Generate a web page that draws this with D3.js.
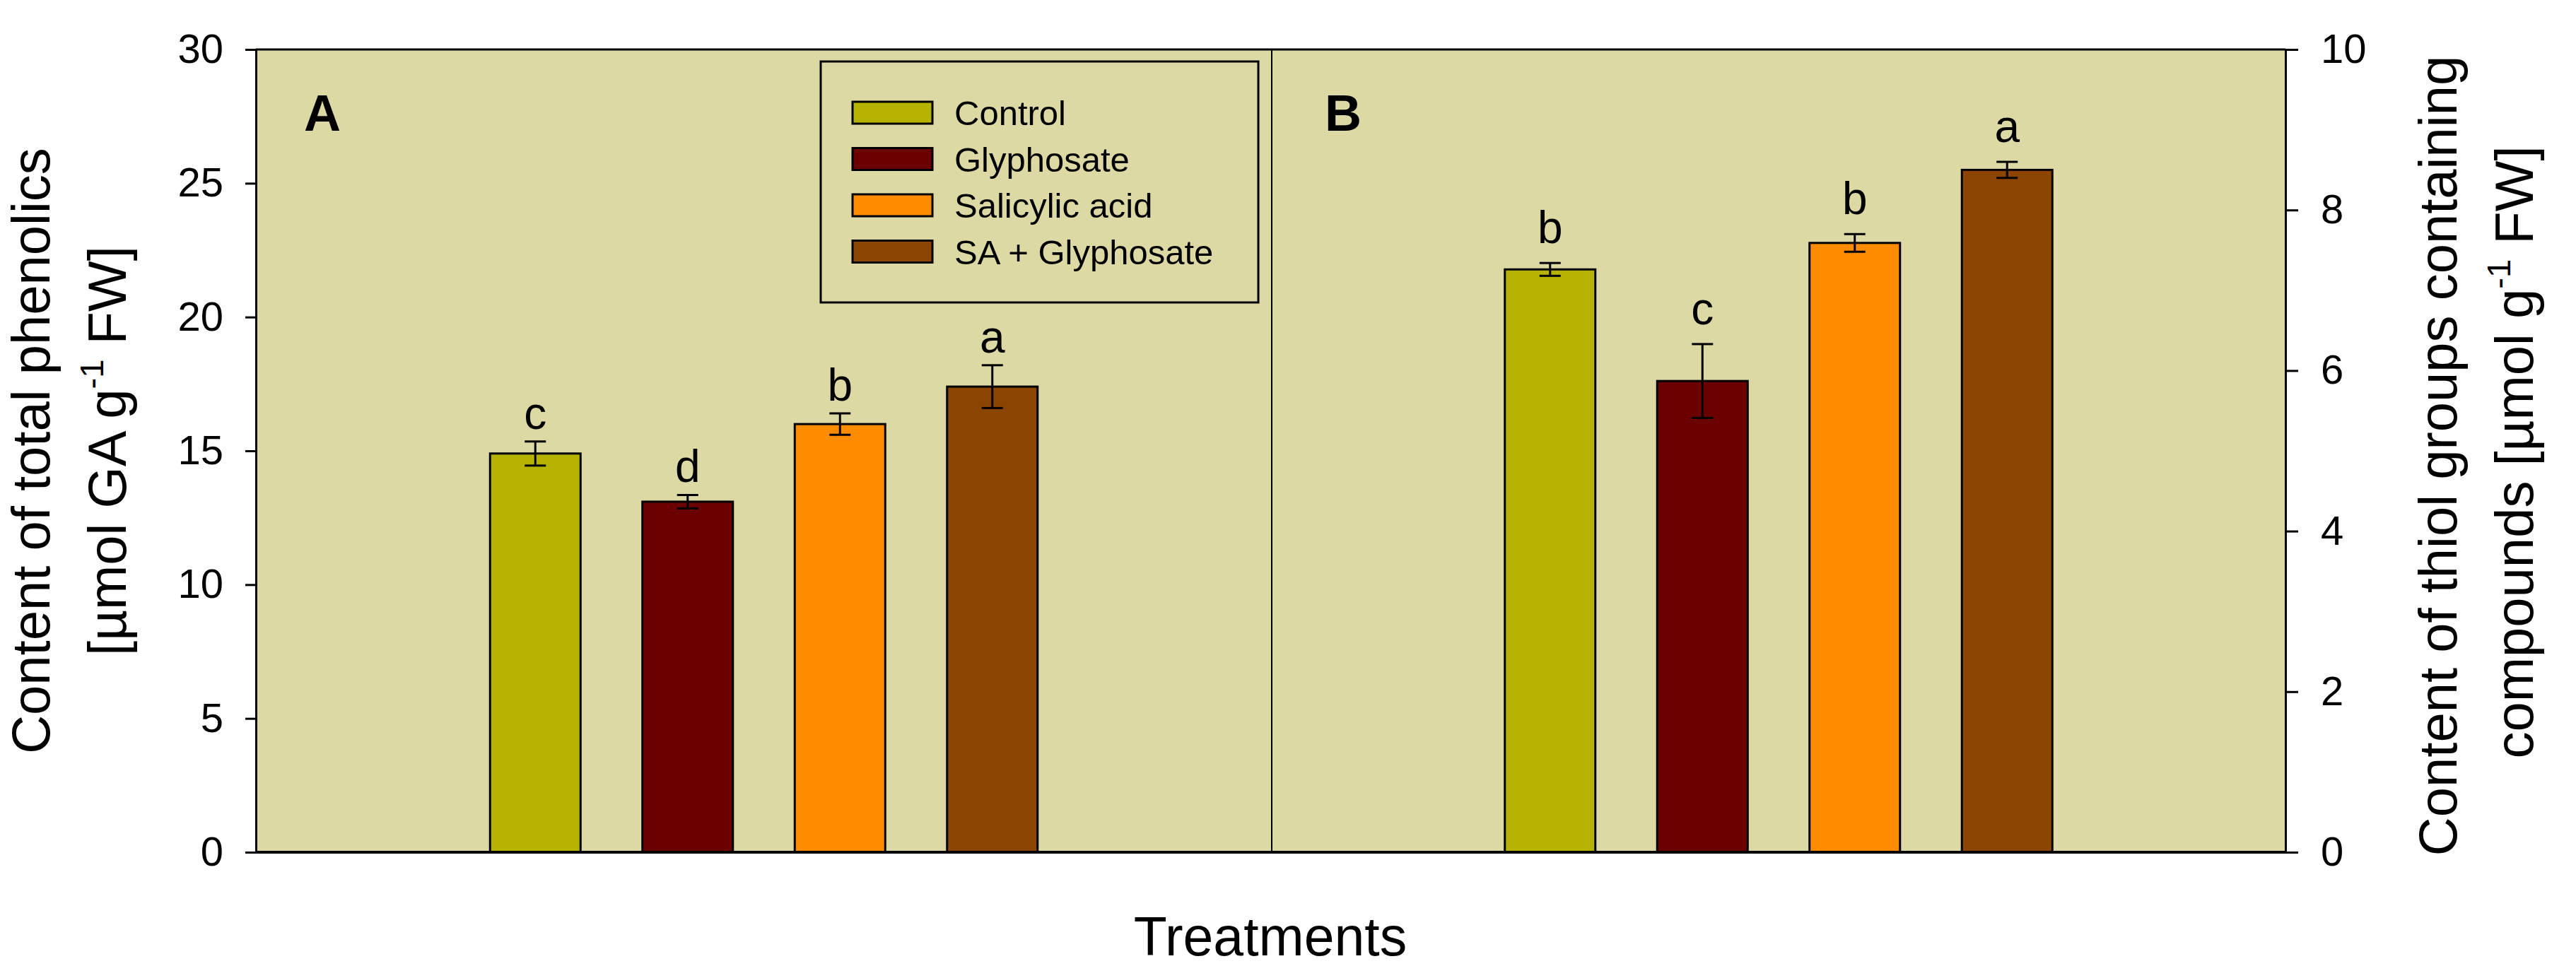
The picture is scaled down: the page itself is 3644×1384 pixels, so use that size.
<!DOCTYPE html>
<html><head><meta charset="utf-8">
<script src="https://cdn.jsdelivr.net/npm/d3@7"></script>
<style>
body{margin:0;background:#fff;}
text{font-family:"Liberation Sans",Arial,sans-serif;fill:#000;}
</style>
</head><body>
<svg id="chart" width="3644" height="1384"></svg>
<script>
// ---- data ----
const treatments = ["Control", "Glyphosate", "Salicylic acid", "SA + Glyphosate"];
const barColors = ["#b6b300", "#6b0000", "#ff8c00", "#8b4500"];
const phenolics = [14.9, 13.1, 16.0, 17.4];
const phenolicsErr = [0.45, 0.25, 0.4, 0.8];
const phenolicsLetters = ["c", "d", "b", "a"];
const thiols = [7.26, 5.87, 7.59, 8.5];
const thiolsErr = [0.08, 0.46, 0.11, 0.1];
const thiolsLetters = ["b", "c", "b", "a"];
const leftTicks = [0, 5, 10, 15, 20, 25, 30];
const rightTicks = [0, 2, 4, 6, 8, 10];

// ---- layout ----
const L = 362, R = 3233, T = 70, B = 1206, MID = 1799;
const svg = d3.select("#chart");

const yA = d3.scaleLinear().domain([0, 30]).range([B, T]);
const yB = d3.scaleLinear().domain([0, 10]).range([B, T]);
const midA = (L + MID) / 2, midB = (MID + R) / 2;
const half = 431;
const xA = d3.scaleBand().domain(treatments).range([midA - half, midA + half]).paddingInner(0.406).paddingOuter(0.203);
const xB = d3.scaleBand().domain(treatments).range([midB - half, midB + half]).paddingInner(0.406).paddingOuter(0.203);

// plot background
svg.append("rect").attr("x", L).attr("y", T).attr("width", R - L).attr("height", B - T).attr("fill", "#dcd9a5");

// panels
function panel(x, y, vals, errs, letters, gap) {
  const g = svg.append("g");
  g.selectAll("rect.bar").data(treatments).enter().append("rect")
    .attr("class", "bar")
    .attr("x", d => x(d)).attr("width", x.bandwidth())
    .attr("y", (d, i) => y(vals[i])).attr("height", (d, i) => y(0) - y(vals[i]))
    .attr("fill", (d, i) => barColors[i]).attr("stroke", "#000").attr("stroke-width", 3);
  const cx = d => x(d) + x.bandwidth() / 2;
  g.selectAll("line.err").data(treatments).enter().append("line")
    .attr("x1", cx).attr("x2", cx)
    .attr("y1", (d, i) => y(vals[i] - errs[i])).attr("y2", (d, i) => y(vals[i] + errs[i]))
    .attr("stroke", "#000").attr("stroke-width", 3);
  [-1, 1].forEach(s => {
    g.selectAll("line.cap" + s).data(treatments).enter().append("line")
      .attr("x1", d => cx(d) - 15).attr("x2", d => cx(d) + 15)
      .attr("y1", (d, i) => y(vals[i] + s * errs[i])).attr("y2", (d, i) => y(vals[i] + s * errs[i]))
      .attr("stroke", "#000").attr("stroke-width", 3);
  });
  g.selectAll("text.sig").data(treatments).enter().append("text")
    .attr("x", cx).attr("y", (d, i) => y(vals[i] + errs[i]) - gap)
    .attr("text-anchor", "middle").attr("font-size", 64)
    .text((d, i) => letters[i]);
}
panel(xA, yA, phenolics, phenolicsErr, phenolicsLetters, 18);
panel(xB, yB, thiols, thiolsErr, thiolsLetters, 28);

// frame lines
svg.append("line").attr("x1", L).attr("x2", R).attr("y1", T).attr("y2", T).attr("stroke", "#000").attr("stroke-width", 3);
svg.append("line").attr("x1", MID).attr("x2", MID).attr("y1", T).attr("y2", B).attr("stroke", "#000").attr("stroke-width", 2);
svg.append("line").attr("x1", L).attr("x2", R).attr("y1", B).attr("y2", B).attr("stroke", "#000").attr("stroke-width", 4);

// axes
const axL = svg.append("g").attr("transform", `translate(${L},0)`)
  .call(d3.axisLeft(yA).tickValues(leftTicks).tickSize(15).tickSizeOuter(0).tickPadding(31));
const axR = svg.append("g").attr("transform", `translate(${R},0)`)
  .call(d3.axisRight(yB).tickValues(rightTicks).tickSize(18).tickSizeOuter(0).tickPadding(32));
[axL, axR].forEach(a => {
  a.selectAll("path.domain").attr("stroke", "#000").attr("stroke-width", 3);
  a.selectAll(".tick line").attr("stroke", "#000").attr("stroke-width", 3);
  a.selectAll(".tick text").attr("font-size", 58).attr("font-family", "Liberation Sans, Arial, sans-serif").attr("fill", "#000");
});

// panel labels
svg.append("text").attr("x", 430).attr("y", 185).attr("font-size", 72).attr("font-weight", "bold").text("A");
svg.append("text").attr("x", 1874).attr("y", 185).attr("font-size", 72).attr("font-weight", "bold").text("B");

// legend
const lg = svg.append("g");
lg.append("rect").attr("x", 1161).attr("y", 87).attr("width", 619).attr("height", 341)
  .attr("fill", "none").attr("stroke", "#000").attr("stroke-width", 3);
treatments.forEach((t, i) => {
  const yy = 144 + i * 65.5;
  lg.append("rect").attr("x", 1206).attr("y", yy).attr("width", 113).attr("height", 31)
    .attr("fill", barColors[i]).attr("stroke", "#000").attr("stroke-width", 3);
  lg.append("text").attr("x", 1350).attr("y", yy + 33).attr("font-size", 49).text(t);
});

// axis titles
function sup(sel, before, s, after, fs) {
  sel.append("tspan").text(before);
  sel.append("tspan").attr("font-size", fs * 0.62).attr("dy", -fs * 0.42).text(s);
  sel.append("tspan").attr("dy", fs * 0.42).text(after);
}
svg.append("text").attr("transform", "translate(70,638) rotate(-90)").attr("text-anchor", "middle")
  .attr("font-size", 76).text("Content of total phenolics");
sup(svg.append("text").attr("transform", "translate(178,638) rotate(-90)").attr("text-anchor", "middle")
  .attr("font-size", 76), "[µmol GA g", "-1", " FW]", 76);
svg.append("text").attr("transform", "translate(3475,645) rotate(-90)").attr("text-anchor", "middle")
  .attr("font-size", 76).text("Content of thiol groups containing");
sup(svg.append("text").attr("transform", "translate(3583,640) rotate(-90)").attr("text-anchor", "middle")
  .attr("font-size", 76), "compounds [µmol g", "-1", " FW]", 76);

svg.append("text").attr("x", 1797).attr("y", 1352).attr("text-anchor", "middle").attr("font-size", 77).text("Treatments");
</script>
</body></html>
